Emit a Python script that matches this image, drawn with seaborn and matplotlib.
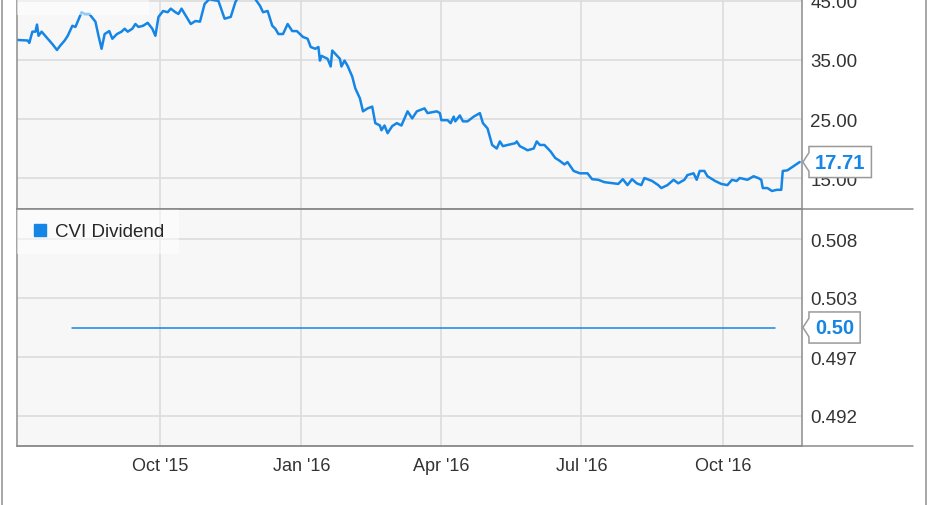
import matplotlib
matplotlib.use('Agg')

import pandas as pd
import matplotlib.pyplot as plt
import matplotlib.dates as mdates
import seaborn as sns
from matplotlib.lines import Line2D
from matplotlib.path import Path

# ===== DATA =====
price_dates = [
    '2015-06-30', '2015-07-07', '2015-07-08', '2015-07-10', '2015-07-12', '2015-07-13', '2015-07-14',
    '2015-07-16', '2015-07-20', '2015-07-23', '2015-07-26', '2015-07-28', '2015-07-31', '2015-08-02',
    '2015-08-05', '2015-08-07', '2015-08-11', '2015-08-13', '2015-08-16', '2015-08-20', '2015-08-22',
    '2015-08-24', '2015-08-26', '2015-08-29', '2015-08-31', '2015-09-03', '2015-09-06', '2015-09-08',
    '2015-09-10', '2015-09-13', '2015-09-15', '2015-09-17', '2015-09-20', '2015-09-23', '2015-09-26',
    '2015-09-28', '2015-09-30', '2015-10-03', '2015-10-06', '2015-10-08', '2015-10-11', '2015-10-13',
    '2015-10-15', '2015-10-21', '2015-10-24', '2015-10-27', '2015-10-30', '2015-11-02', '2015-11-08',
    '2015-11-12', '2015-11-16', '2015-11-19', '2015-11-22', '2015-11-27', '2015-11-30', '2015-12-02',
    '2015-12-05', '2015-12-07', '2015-12-10', '2015-12-13', '2015-12-15', '2015-12-17', '2015-12-20',
    '2015-12-23', '2015-12-26', '2015-12-29', '2016-01-02', '2016-01-05', '2016-01-07', '2016-01-10',
    '2016-01-12', '2016-01-13', '2016-01-14', '2016-01-18', '2016-01-20', '2016-01-21', '2016-01-26',
    '2016-01-27', '2016-01-29', '2016-01-31', '2016-02-03', '2016-02-05', '2016-02-08', '2016-02-10',
    '2016-02-13', '2016-02-16', '2016-02-18', '2016-02-21', '2016-02-22', '2016-02-24', '2016-02-26',
    '2016-02-29', '2016-03-03', '2016-03-06', '2016-03-08', '2016-03-10', '2016-03-13', '2016-03-16',
    '2016-03-21', '2016-03-23', '2016-03-29', '2016-03-31', '2016-04-01', '2016-04-05', '2016-04-07',
    '2016-04-09', '2016-04-10', '2016-04-13', '2016-04-15', '2016-04-18', '2016-04-22', '2016-04-26',
    '2016-04-28', '2016-05-01', '2016-05-04', '2016-05-07', '2016-05-09', '2016-05-11', '2016-05-14',
    '2016-05-19', '2016-05-20', '2016-05-22', '2016-05-25', '2016-05-27', '2016-05-31', '2016-06-02',
    '2016-06-04', '2016-06-07', '2016-06-11', '2016-06-14', '2016-06-17', '2016-06-20', '2016-06-22',
    '2016-06-26', '2016-06-30', '2016-07-05', '2016-07-08', '2016-07-12', '2016-07-16', '2016-07-22',
    '2016-07-25', '2016-07-28', '2016-07-31', '2016-08-03', '2016-08-06', '2016-08-09', '2016-08-11',
    '2016-08-16', '2016-08-20', '2016-08-22', '2016-08-26', '2016-08-30', '2016-09-02', '2016-09-06',
    '2016-09-08', '2016-09-12', '2016-09-14', '2016-09-16', '2016-09-19', '2016-09-21', '2016-09-26',
    '2016-09-30', '2016-10-04', '2016-10-07', '2016-10-10', '2016-10-12', '2016-10-17', '2016-10-21',
    '2016-10-24', '2016-10-26', '2016-10-27', '2016-10-30', '2016-11-02', '2016-11-05', '2016-11-08',
    '2016-11-09', '2016-11-12', '2016-11-16', '2016-11-20',
]
price_values = [
    38.4, 38.3, 37.9, 39.8, 39.8, 41.0, 39.1,
    39.8, 38.6, 37.7, 36.7, 37.4, 38.3, 39.1,
    40.8, 40.6, 43.1, 42.8, 42.8, 41.5, 39.1,
    36.9, 39.4, 39.9, 38.6, 39.4, 39.8, 40.3,
    39.8, 40.3, 41.1, 40.6, 40.8, 41.3, 40.3,
    39.1, 42.3, 43.3, 43.1, 43.7, 43.1, 42.8,
    43.7, 41.1, 41.6, 41.5, 44.5, 45.3, 45.0,
    42.0, 42.3, 44.8, 46.2, 46.7, 45.8, 45.3,
    44.2, 43.1, 43.3, 40.8, 40.3, 39.4, 39.4,
    41.1, 39.9, 39.9, 38.9, 38.6, 37.2, 36.9,
    37.2, 34.9, 35.7, 35.2, 33.9, 36.6, 35.2,
    33.9, 34.9, 34.0, 32.2, 30.2, 28.5, 26.3,
    26.8, 27.1, 24.3, 23.9, 23.1, 23.9, 22.6,
    23.8, 24.3, 23.9, 25.1, 26.3, 25.1, 26.3,
    26.8, 26.0, 26.3, 26.0, 24.8, 24.8, 24.3,
    25.4, 24.6, 25.6, 24.6, 24.6, 25.4, 26.0,
    24.3, 23.4, 20.6, 20.0, 21.2, 20.4, 20.6,
    20.9, 21.2, 20.4, 20.0, 19.7, 20.0, 21.2,
    20.6, 20.6, 19.5, 18.4, 17.9, 17.3, 17.7,
    16.2, 15.8, 15.8, 14.8, 14.7, 14.3, 14.1,
    14.0, 14.8, 13.8, 14.8, 14.1, 13.8, 15.0,
    14.5, 13.8, 13.3, 13.8, 14.7, 14.1, 14.7,
    15.5, 15.8, 14.7, 16.2, 16.2, 15.3, 14.5,
    14.0, 13.8, 14.7, 14.5, 15.0, 14.7, 15.3,
    15.0, 14.7, 13.3, 13.3, 12.8, 13.0, 13.0,
    16.2, 16.3, 17.0, 17.71,
]
dividend_dates = ['2015-08-05', '2016-11-04']
dividend_values = [0.50, 0.50]

x_ticks = ['2015-10-01', '2016-01-01', '2016-04-01', '2016-07-01', '2016-10-01']
price_ticks = [15, 25, 35, 45]
dividend_ticks = [0.49167, 0.49722, 0.50278, 0.50833]
dividend_tick_labels = ['0.492', '0.497', '0.503', '0.508']

price_df = pd.DataFrame({'Date': pd.to_datetime(price_dates), 'Price': price_values})
div_df = pd.DataFrame({'Date': pd.to_datetime(dividend_dates), 'Dividend': dividend_values})

BLUE = '#1586e6'
EDGE = '#8c8c8c'

# Set style
sns.set_style('whitegrid', {'axes.facecolor': '#f7f7f7', 'grid.color': '#dcdcdc',
                            'axes.edgecolor': EDGE})
plt.rcParams['font.family'] = ['Liberation Sans', 'DejaVu Sans']

W, H = 931, 506
fig = plt.figure(figsize=(W / 100, H / 100), dpi=100)


def px_axes(x0, y0, x1, y1, **kw):
    return fig.add_axes([x0 / W, 1 - y1 / H, (x1 - x0) / W, (y1 - y0) / H], **kw)


# the top panel runs past the top edge of the picture (it is cropped there)
ax1 = px_axes(17, -29, 802, 210)
ax2 = px_axes(17, 210, 802, 447, sharex=ax1)

sns.lineplot(data=price_df, x='Date', y='Price', ax=ax1, color=BLUE, linewidth=1.8)
sns.lineplot(data=div_df, x='Date', y='Dividend', ax=ax2, color=BLUE, linewidth=1.1)

ax1.set_xlim(pd.Timestamp('2015-06-30'), pd.Timestamp('2016-11-21 12:00'))
ax1.set_ylim(9.75, 50.25)
ax1.set_yticks(price_ticks)
ax1.set_yticklabels([f'{t:.2f}' for t in price_ticks])
ax2.set_ylim(0.48884, 0.51116)
ax2.set_yticks(dividend_ticks)
ax2.set_yticklabels(dividend_tick_labels)

ax2.set_xticks(pd.to_datetime(x_ticks))
ax2.xaxis.set_major_formatter(mdates.DateFormatter("%b '%y"))


# callout box with a small notch pointing left
def callout(x0, y0, width, height, mutation_size):
    pad = 0.3 * mutation_size
    x0, y0 = x0 - pad, y0 - pad
    x1, y1 = x0 + width + 2 * pad, y0 + height + 2 * pad
    ym = (y0 + y1) / 2
    notch = 0.3 * (y1 - y0)
    tip = 0.3 * mutation_size
    verts = [(x0, y0), (x1, y0), (x1, y1), (x0, y1), (x0, ym + notch),
             (x0 - tip, ym), (x0, ym - notch), (x0, y0)]
    return Path(verts, closed=True)


for ax, label, last in [(ax1, 'CVI Price', price_values[-1]),
                        (ax2, 'CVI Dividend', dividend_values[-1])]:
    ax.set_xlabel('')
    ax.set_ylabel('')
    ax.yaxis.tick_right()
    ax.tick_params(axis='y', length=0, pad=6, labelsize=13.5, labelcolor='#333333')
    ax.tick_params(axis='x', length=0, pad=8, labelsize=13, labelcolor='#333333')
    ax.grid(True, color='#dcdcdc', linewidth=1.2)
    for s in ax.spines.values():
        s.set_linewidth(1.1)
        s.set_color(EDGE)
    handle = Line2D([], [], marker='s', linestyle='', color=BLUE, markersize=9)
    ax.legend(handles=[handle], labels=[label], loc='upper left', frameon=True, fancybox=False,
              framealpha=0.55, facecolor='white', edgecolor='none', fontsize=13.5,
              borderaxespad=0, borderpad=0.75, handlelength=0.9, handletextpad=0.4)
    ax.annotate(f'{last:.2f}', xy=(1, last), xycoords=('axes fraction', 'data'),
                xytext=(13, 0), textcoords='offset pixels', ha='left', va='center',
                fontsize=14.5, fontweight='bold', color=BLUE, annotation_clip=False,
                bbox=dict(boxstyle=callout, fc='white', ec='#9a9a9a', lw=1.1))

ax1.tick_params(axis='x', labelbottom=False)

# frame lines running past the plot area, and the outer border
for y in (210, 447):
    fig.add_artist(Line2D([17 / W, 913 / W], [1 - y / H] * 2, transform=fig.transFigure,
                          color=EDGE, linewidth=1.1))
for x in (1.5, 926):
    fig.add_artist(Line2D([x / W] * 2, [0, 1], transform=fig.transFigure,
                          color='#a0a0a0', linewidth=1.3))

plt.savefig('out.png', dpi=100)
plt.close()
